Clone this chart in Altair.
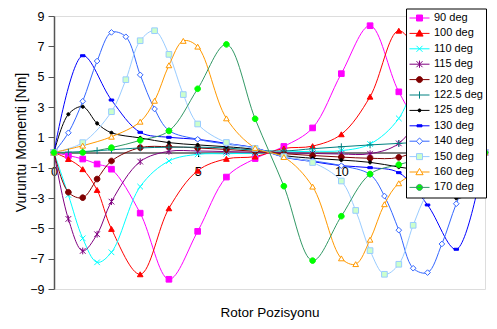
import altair as alt
import pandas as pd

# ---------------- data ----------------
series_names = ["90 deg", "100 deg", "110 deg", "115 deg", "120 deg", "122.5 deg",
                "125 deg", "130 deg", "140 deg", "150 deg", "160 deg", "170 deg"]

x_fine = [0, 0.5, 1, 1.5, 2, 3, 4, 5, 6, 7, 8, 9, 10, 11, 12, 13, 13.5, 14, 14.5, 15]
x_130 = [0, 1, 2, 3, 4, 5, 6, 7, 8, 9, 10, 11, 12, 13, 14, 15]
x_140 = [0, 0.5, 1, 1.5, 2, 2.5, 3, 3.5, 4, 5, 6, 7, 8, 9, 10, 11, 11.5, 12, 12.5, 13, 13.5, 14, 14.5, 15]
x_150 = [0, 1, 2, 2.5, 3, 3.5, 4, 4.5, 5, 6, 7, 8, 9, 10, 10.5, 11, 11.5, 12, 12.5, 13, 14, 15]
x_160 = [0, 1, 2, 3, 3.5, 4, 4.5, 5, 6, 7, 8, 9, 10, 10.5, 11, 11.5, 12, 13, 14, 15]
x_170 = [0, 1, 2, 3, 4, 5, 6, 7, 8, 9, 10, 11, 12, 13, 14, 15]

y_90 = [0, -0.2, -0.43, -0.76, -1.1, -4.0, -8.36, -5.2, -1.62, -0.4,
        0.4, 1.62, 5.2, 8.36, 4.0, 1.1, 0.76, 0.43, 0.2, 0]
y_100 = [0, -0.43, -1.1, -2.47, -5.04, -8.03, -3.68, -1.2, -0.42, -0.27,
         0.27, 0.42, 1.2, 3.68, 8.03, 5.04, 2.47, 1.1, 0.43, 0]
y_110 = [0, -2.8, -5.66, -7.24, -6.58, -2.25, -0.56, -0.12, -0.08, -0.04,
         0.04, 0.08, 0.12, 0.56, 2.25, 6.58, 7.24, 5.66, 2.8, 0]
y_115 = [0, -4.38, -6.49, -5.39, -3.24, -0.6, 0.08, 0.1, 0.06, 0.02,
         -0.02, -0.06, -0.1, -0.08, 0.6, 3.24, 5.39, 6.49, 4.38, 0]
y_120 = [0, -2.62, -2.98, -1.75, -0.56, 0.32, 0.38, 0.3, 0.2, 0.08,
         -0.08, -0.2, -0.3, -0.38, -0.32, 0.56, 1.75, 2.98, 2.62, 0]
y_122 = [0, 0.02, 0.06, 0.12, 0.18, 0.3, 0.35, 0.35, 0.3, 0.15,
         0.1, 0.25, 0.38, 0.5, 0.6, 0.7, 0.7, 0.6, 0.4, 0]
y_125 = [0, 2.52, 3.02, 1.92, 1.3, 0.96, 0.65, 0.5, 0.38, 0.2,
         -0.2, -0.38, -0.5, -0.65, -0.96, -1.3, -1.92, -3.02, -2.52, 0]
y_130 = [0, 6.38, 3.46, 1.33, 1.0, 0.87, 0.6, 0.3, -0.3, -0.6, -0.87, -1.0, -1.33, -3.46, -6.38, 0]
y_140 = [0, 1.3, 3.38, 6.03, 7.92, 7.63, 5.12, 2.87, 1.45, 0.87, 0.55, 0.3,
         -0.3, -0.55, -0.87, -1.45, -2.87, -5.12, -7.63, -7.92, -6.03, -3.38, -1.3, 0]
y_150 = [0, 0.65, 2.69, 4.8, 7.37, 8.03, 6.47, 3.82, 1.88, 0.66, 0.27,
         -0.27, -0.66, -1.88, -3.82, -6.47, -8.03, -7.37, -4.8, -2.69, -0.65, 0]
y_160 = [0, 0.45, 1.04, 2.03, 3.41, 5.75, 7.36, 6.98, 2.25, 0.3,
         -0.3, -2.25, -6.98, -7.36, -5.75, -3.41, -2.03, -1.04, -0.45, 0]
y_170 = [0, 0, 0.32, 0.8, 1.42, 4.2, 7.13, 2.22, -2.22, -7.13, -4.2, -1.42, -0.8, -0.32, 0, 0]

x_lists = [x_fine, x_fine, x_fine, x_fine, x_fine, x_fine, x_fine, x_130, x_140, x_150, x_160, x_170]
y_lists = [y_90, y_100, y_110, y_115, y_120, y_122, y_125, y_130, y_140, y_150, y_160, y_170]

y_ticks = [-9, -7, -5, -3, -1, 1, 3, 5, 7, 9]
x_ticks = [0, 5, 10]

# ---------------- styles ----------------
line_colors = ["#FF00FF", "#FF0000", "#00FFFF", "#800080", "#800000", "#008080",
               "#000000", "#0000FF", "#3366FF", "#99CCFF", "#FF9900", "#339966"]
marker_strokes = ["#FF00FF", "#FF0000", "#00FFFF", "#800080", "#800000", "#008080",
                  "#000000", "#0000FF", "#3366FF", "#99CCFF", "#FF9900", "#00FF00"]
marker_fills = ["#FF00FF", "#FF0000", "transparent", "transparent", "#800000", "transparent",
                "#000000", "#0000FF", "#FFFFFF", "#CCFFCC", "#FFFFFF", "#00FF00"]
circ = "M-1,0A1,1 0 1,0 1,0A1,1 0 1,0 -1,0Z"
small_circ = "M-0.55,0A0.55,0.55 0 1,0 0.55,0A0.55,0.55 0 1,0 -0.55,0Z"
marker_shapes = ["square", "triangle-up", "M-1,-1L1,1M-1,1L1,-1",
                 "M-1,-1L1,1M-1,1L1,-1M0,-1.2L0,1.2", circ, "M-1.2,0L1.2,0M0,-1.2L0,1.2",
                 small_circ, "M-0.8,-0.35H0.8V0.35H-0.8Z", "diamond", "square", "triangle-up", circ]

legend_shapes = [
    "M-1,0H1M-0.3,-0.3H0.3V0.3H-0.3Z",
    "M-1,0H1M0,-0.36L0.36,0.27L-0.36,0.27Z",
    "M-1,0H1M-0.3,-0.3L0.3,0.3M-0.3,0.3L0.3,-0.3",
    "M-1,0H1M-0.3,-0.3L0.3,0.3M-0.3,0.3L0.3,-0.3M0,-0.36V0.36",
    "M-1,0H1M-0.3,0A0.3,0.3 0 1,0 0.3,0A0.3,0.3 0 1,0 -0.3,0Z",
    "M-1,0H1M0,-0.36V0.36",
    "M-1,0H1M-0.15,0A0.15,0.15 0 1,0 0.15,0A0.15,0.15 0 1,0 -0.15,0Z",
    "M-1,0H1M-0.25,-0.1H0.25V0.1H-0.25Z",
    "M-1,0H-0.32M0.32,0H1M0,-0.32L0.32,0L0,0.32L-0.32,0Z",
    "M-1,0H-0.3M0.3,0H1M-0.3,-0.3H0.3V0.3H-0.3Z",
    "M-1,0H-0.22M0.22,0H1M0,-0.36L0.36,0.27L-0.36,0.27Z",
    "M-1,0H1M-0.3,0A0.3,0.3 0 1,0 0.3,0A0.3,0.3 0 1,0 -0.3,0Z",
]

rows = []
for i, (name, xs, ys) in enumerate(zip(series_names, x_lists, y_lists)):
    for xv, yv in zip(xs, ys):
        rows.append({"series": name, "pos": xv, "torque": yv, "k": i})
df = pd.DataFrame(rows)

FONT = "Liberation Sans"

x_enc = alt.X("pos:Q", scale=alt.Scale(domain=[0, 15], nice=False),
              axis=alt.Axis(values=x_ticks, offset=-136.5, grid=False, tickSize=4,
                            labelFlush=False, labelOverlap=False, labelPadding=9,
                            labelFontSize=12.5, labelColor="black", domainColor="black",
                            tickColor="black", title="Rotor Pozisyonu", titleFontSize=13.5,
                            titleFontWeight="normal", titleColor="black",
                            titleBaseline="alphabetic", titleY=164))
y_enc = alt.Y("torque:Q", scale=alt.Scale(domain=[-9, 9], nice=False),
              axis=alt.Axis(values=y_ticks, grid=False, tickSize=6, labelPadding=4,
                            labelOverlap=False, labelFontSize=12.5, labelColor="black",
                            domainColor="#555555", domainWidth=1.5, tickColor="#555555",
                            title="Vuruntu Momenti [Nm]", titleFontSize=14,
                            titleFontWeight="normal", titleColor="black",
                            titleBaseline="alphabetic", titleX=-29, titleY=126))

lines = alt.Chart(df).mark_line(interpolate="catmull-rom", strokeWidth=1).encode(
    x=x_enc, y=y_enc,
    color=alt.Color("series:N", scale=alt.Scale(domain=series_names, range=line_colors), legend=None),
    order="pos:Q",
)

points = alt.Chart(df).mark_point(size=32, strokeWidth=1, opacity=1).encode(
    x=x_enc, y=y_enc,
    shape=alt.Shape("series:N", scale=alt.Scale(domain=series_names, range=marker_shapes), legend=None),
    stroke=alt.Stroke("series:N", scale=alt.Scale(domain=series_names, range=marker_strokes), legend=None),
    fill=alt.Fill("series:N", scale=alt.Scale(domain=series_names, range=marker_fills), legend=None),
)

leg = alt.Legend(title=None, orient="none", legendX=352, legendY=-7.5, padding=3,
                 strokeColor="black", fillColor="white", symbolSize=400,
                 symbolStrokeWidth=1, symbolOpacity=1, labelFont=FONT, labelFontSize=11,
                 labelColor="black", labelOffset=4, clipHeight=13, rowPadding=2.4,
                 cornerRadius=0)

legend_layer = alt.Chart(df).mark_point(size=400, strokeWidth=1, opacity=0).encode(
    x=x_enc, y=y_enc,
    shape=alt.Shape("series:N", scale=alt.Scale(domain=series_names, range=legend_shapes), legend=leg),
    stroke=alt.Stroke("series:N", scale=alt.Scale(domain=series_names, range=line_colors), legend=leg),
    fill=alt.Fill("series:N", scale=alt.Scale(domain=series_names, range=marker_fills), legend=leg),
)

chart = alt.layer(lines, points, legend_layer).resolve_scale(
    color="independent", shape="independent", stroke="independent", fill="independent"
).resolve_legend(
    color="independent", shape="independent", stroke="independent", fill="independent"
).properties(
    width=431, height=273,
    autosize=alt.AutoSizeParams(type="none"),
    padding={"left": 46, "top": 8, "right": 4, "bottom": 32},
).configure_view(stroke="#808080", strokeWidth=1).configure_axis(
    labelFont=FONT, titleFont=FONT, labelOverlap=False
).configure(background="white")

chart.save("out.html", embed_options={"renderer": "svg", "actions": False})
